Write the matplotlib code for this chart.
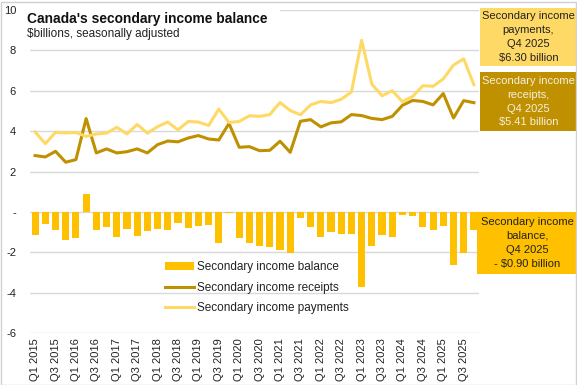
import matplotlib
matplotlib.use("Agg")
import matplotlib.pyplot as plt
import numpy as np
from matplotlib.patches import Rectangle

quarters = [f"Q{q} {y}" for y in range(2015, 2026) for q in range(1, 5)]

receipts = [2.79, 2.72, 3.00, 2.46, 2.59, 4.62, 2.92, 3.12, 2.92, 2.98, 3.12, 2.92,
            3.33, 3.51, 3.47, 3.66, 3.78, 3.61, 3.56, 4.38, 3.20, 3.23, 3.03, 3.05,
            3.50, 2.95, 4.49, 4.57, 4.21, 4.41, 4.46, 4.82, 4.77, 4.63, 4.57, 4.73,
            5.28, 5.52, 5.47, 5.30, 5.86, 4.65, 5.51, 5.41]
payments = [3.96, 3.38, 3.94, 3.91, 3.93, 3.74, 3.86, 3.90, 4.19, 3.86, 4.33, 3.90,
            4.22, 4.45, 4.06, 4.48, 4.45, 4.28, 5.09, 4.43, 4.48, 4.76, 4.73, 4.82,
            5.42, 5.02, 4.81, 5.30, 5.47, 5.41, 5.58, 5.94, 8.50, 6.32, 5.75, 6.00,
            5.46, 5.72, 6.25, 6.22, 6.59, 7.27, 7.58, 6.30]
balance = [-1.16, -0.60, -0.91, -1.40, -1.29, 0.90, -0.91, -0.76, -1.24, -0.84, -1.19, -0.96,
           -0.85, -0.91, -0.56, -0.81, -0.68, -0.66, -1.53, -0.05, -1.29, -1.53, -1.70, -1.75,
           -1.90, -2.05, -0.32, -0.76, -1.26, -1.00, -1.10, -1.10, -3.73, -1.70, -1.16, -1.26,
           -0.17, -0.20, -0.76, -0.91, -0.71, -2.64, -2.05, -0.90]

yticks = [10, 8, 6, 4, 2, 0, -2, -4, -6]
ytick_labels = ["10", "8", "6", "4", "2", "-", "-2", "-4", "-6"]

c_bal = "#FFC000"
c_rec = "#BF9000"
c_pay = "#FFD966"

narrow = ["Liberation Sans Narrow", "Liberation Sans", "DejaVu Sans"]
plt.rcParams["font.family"] = narrow

W, H = 577, 385
fig = plt.figure(figsize=(W / 100, H / 100), dpi=100)
ax = fig.add_axes([30 / W, 1 - 333 / H, (479 - 30) / W, (333 - 10) / H])

x = np.arange(len(quarters))
hb = ax.bar(x, balance, width=0.7, color=c_bal, zorder=2, label="Secondary income balance")
hr, = ax.plot(x, receipts, color=c_rec, lw=2.2, zorder=3, label="Secondary income receipts")
hp, = ax.plot(x, payments, color=c_pay, lw=2.2, zorder=3, label="Secondary income payments")

ax.set_xlim(-0.5, len(quarters) - 0.5)
ax.set_ylim(-6, 10)
ax.set_yticks(yticks)
ax.set_yticklabels(ytick_labels, fontsize=8, color="#222222")
ax.yaxis.grid(True, color="#d9d9d9", lw=1, zorder=0)
ax.set_axisbelow(True)
ax.set_xticks(x[::2])
ax.set_xticklabels(quarters[::2], rotation=90, fontsize=8, color="#222222")
ax.tick_params(axis="both", length=0)
ax.tick_params(axis="y", pad=10)
ax.tick_params(axis="x", pad=4)
for s in ax.spines.values():
    s.set_visible(False)

leg = ax.legend(handles=[hb, hr, hp], loc="upper left",
                bbox_to_anchor=(157 / W, 1 - 253 / H),
                bbox_transform=fig.transFigure, frameon=False, fontsize=8.5,
                handlelength=2.4, handleheight=0.6, labelspacing=0.72,
                handletextpad=0.3, borderpad=0.2)
for t in leg.get_texts():
    t.set_color("#222222")

# white box behind title (covers top gridline)
fig.patches.append(Rectangle((28 / W, 1 - 42 / H), 252 / W, 36 / H,
                             transform=fig.transFigure, facecolor="white",
                             edgecolor="none", zorder=2))
fig.text(27 / W, 1 - 19 / H, "Canada's secondary income balance", fontsize=9.9,
         fontweight="bold", family=["Liberation Sans", "DejaVu Sans"],
         va="center", ha="left", color="#111111", zorder=4)
fig.text(27 / W, 1 - 34 / H, "$billions, seasonally adjusted", fontsize=8.5,
         family=["Liberation Sans", "DejaVu Sans"], va="center", ha="left",
         color="#222222", zorder=4)

# annotation boxes
boxes = [
    (480, 8, 97, 58, c_pay, "#222222", "Secondary income\npayments,\nQ4 2025\n$6.30 billion"),
    (480, 72, 97, 59, c_rec, "#f5f0e0", "Secondary income\nreceipts,\nQ4 2025\n$5.41 billion"),
    (477, 212, 100, 62, c_bal, "#222222", "Secondary income\nbalance,\nQ4 2025\n- $0.90 billion"),
]
for bx, by, bw, bh, fc, tc, txt in boxes:
    fig.patches.append(Rectangle((bx / W, 1 - (by + bh) / H), bw / W, bh / H,
                                 transform=fig.transFigure, facecolor=fc,
                                 edgecolor="none", zorder=2))
    fig.text((bx + bw / 2) / W, 1 - (by + bh / 2) / H, txt, ha="center", va="center",
             fontsize=8, color=tc, linespacing=1.5, zorder=4)

# outer border
fig.patches.append(Rectangle((0.5 / W, 0.5 / H), (W - 2) / W, (H - 2) / H,
                             transform=fig.transFigure, facecolor="none",
                             edgecolor="#d0d0d0", lw=1, zorder=5))

fig.savefig("out.png", dpi=100)
